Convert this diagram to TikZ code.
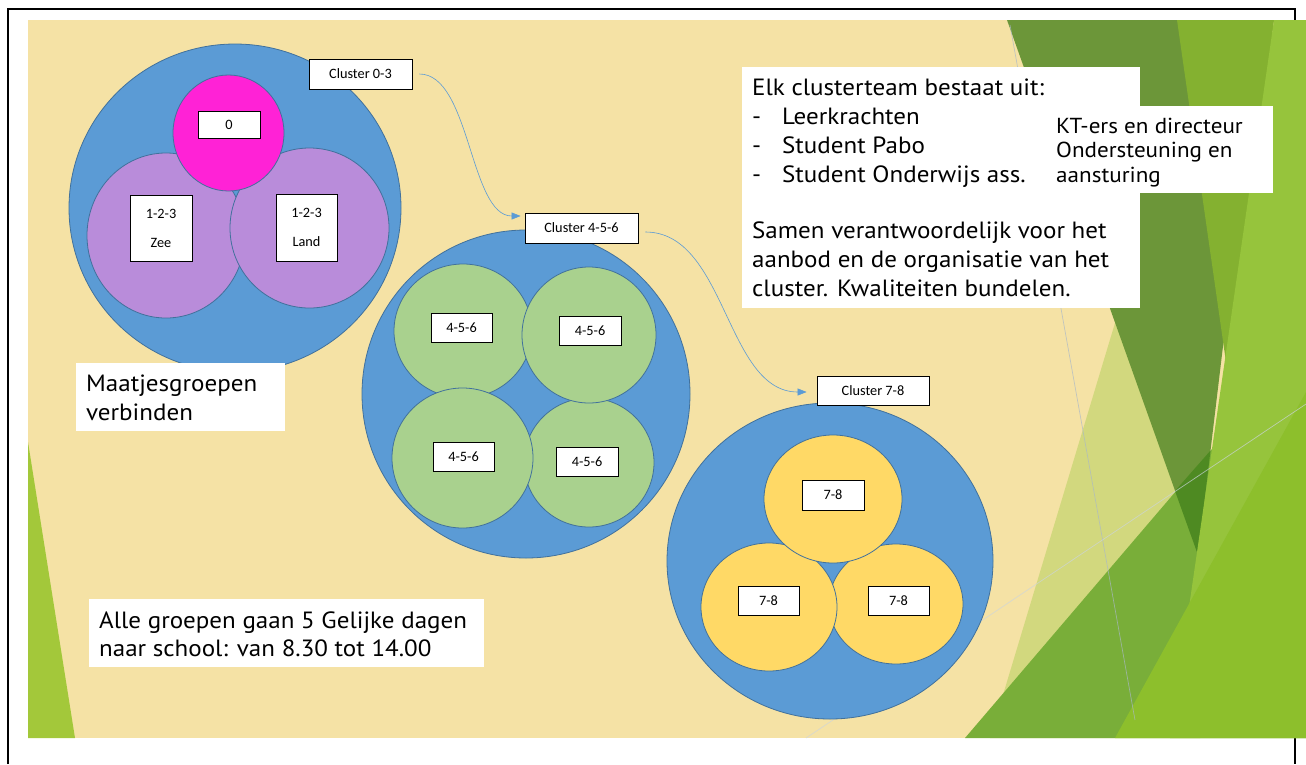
\documentclass[tikz,border=0pt]{standalone}
\usepackage{fontspec}
\setmainfont{PT Sans}[FakeStretch=1.065]
\newfontfamily\lblfont{Carlito}
\usetikzlibrary{shapes.geometric,arrows.meta}
\definecolor{beige}{RGB}{245,226,165}
\definecolor{leftG}{RGB}{163,200,58}
\definecolor{darkG}{RGB}{108,150,57}
\definecolor{midG}{RGB}{132,177,48}
\definecolor{lightG}{RGB}{150,196,60}
\definecolor{bigG}{RGB}{121,174,57}
\definecolor{deepG}{RGB}{78,138,34}
\definecolor{brightG}{RGB}{141,191,44}
\definecolor{paleG}{RGB}{210,216,126}
\definecolor{blueC}{RGB}{91,155,213}
\definecolor{edgeC}{RGB}{65,113,156}
\definecolor{purpleC}{RGB}{185,140,218}
\definecolor{magC}{RGB}{255,34,214}
\definecolor{greenC}{RGB}{169,209,142}
\definecolor{yellowC}{RGB}{255,217,102}
\definecolor{connC}{RGB}{91,155,213}
\definecolor{thinL}{RGB}{170,184,200}
\begin{document}
\begin{tikzpicture}[x=1pt,y=-1pt,
  ell/.style={ellipse, draw=edgeC, line width=0.8pt, inner sep=0pt},
  lbox/.style={rectangle, draw=black, fill=white, line width=0.8pt, inner sep=0pt, font=\lblfont\fontsize{14.3}{29}\selectfont, align=center},
  wbox/.style={rectangle, fill=white, inner sep=0pt, anchor=north west},
  conn/.style={draw=connC, line width=0.6pt, -{Triangle[length=9pt,width=7pt]}},
  txt/.style={anchor=base west, inner sep=0pt}
]
\useasboundingbox (0,0) rectangle (1306,764);
% frame
\draw[line width=2pt] (8,764) -- (8,9) -- (1295,9) -- (1295,764);
% background
\fill[beige] (28,20) rectangle (1306,738);
\fill[leftG] (28,442) -- (75,738) -- (28,738) -- cycle;
\fill[paleG] (1140,240) -- (990,738) -- (1200,738) -- (1200,400) -- cycle;
\fill[darkG] (1007,20) -- (1262,20) -- (1198,555) -- cycle;
\fill[midG] (1177,20) -- (1274,20) -- (1230,390) -- cycle;
\fill[bigG] (965,738) -- (1306,738) -- (1306,339) -- cycle;
\fill[deepG] (1175,491) -- (1210.5,450.5) -- (1198,555) -- cycle;
\fill[lightG] (1274,20) -- (1306,20) -- (1306,738) -- (1170,738) -- (1222,380) -- cycle;
\fill[brightG] (1115,738) -- (1306,738) -- (1306,392) -- cycle;
\draw[thinL, opacity=0.7, line width=0.7pt] (1010,25) -- (1135,720);
\draw[thinL!60!white, opacity=0.7, line width=0.7pt] (806,738) -- (1306,404);
% cluster 0-3
\node[ell, fill=blueC, minimum width=332, minimum height=328] (big03) at (235,208) {};
\node[ell, fill=purpleC, minimum width=158, minimum height=165] (zee) at (166,235.5) {};
\node[ell, fill=purpleC, minimum width=159, minimum height=160] (land) at (309.5,228) {};
\node[ell, fill=magC, minimum width=111, minimum height=116] (nul) at (228.5,133) {};
\node[lbox, minimum width=62, minimum height=27] (l0) at (229,124.5) {0};
\node[lbox, minimum width=62, minimum height=66] (lzee) at (161,228) {1-2-3\\Zee};
\node[lbox, minimum width=61, minimum height=67] (lland) at (306.5,227.5) {1-2-3\\Land};
% cluster 4-5-6
\node[ell, fill=blueC, minimum width=328, minimum height=328] (big456) at (526,394) {};
\node[ell, fill=greenC, minimum width=138, minimum height=134] (gtl) at (463,331) {};
\node[ell, fill=greenC, minimum width=130, minimum height=129] (gbr) at (589,462.5) {};
\node[ell, fill=greenC, minimum width=134, minimum height=136] (gtr) at (589,335) {};
\node[ell, fill=greenC, minimum width=141, minimum height=140] (gbl) at (462.5,458) {};
\node[lbox, minimum width=61, minimum height=29] (ltl) at (461.5,327.5) {4-5-6};
\node[lbox, minimum width=62, minimum height=29] (ltr) at (590,330.5) {4-5-6};
\node[lbox, minimum width=61, minimum height=29] (lbl) at (463.5,456.5) {4-5-6};
\node[lbox, minimum width=62, minimum height=29] (lbr) at (587,461.5) {4-5-6};
% cluster 7-8
\node[ell, fill=blueC, minimum width=326, minimum height=316] (big78) at (830,561) {};
\node[ell, fill=yellowC, minimum width=134, minimum height=120] (ybr) at (896,604) {};
\node[ell, fill=yellowC, minimum width=136, minimum height=128] (ybl) at (769,607) {};
\node[ell, fill=yellowC, minimum width=138, minimum height=128] (ytop) at (833,499) {};
\node[lbox, minimum width=62, minimum height=30] (lytop) at (833,495) {7-8};
\node[lbox, minimum width=61, minimum height=29] (lybl) at (768.5,600.5) {7-8};
\node[lbox, minimum width=61, minimum height=29] (lybr) at (898.5,600.5) {7-8};
% cluster labels
\node[lbox, minimum width=103, minimum height=30] (c03) at (360.5,74) {Cluster 0-3};
\node[lbox, minimum width=113, minimum height=30] (c456) at (581.5,228) {Cluster 4-5-6};
\node[lbox, minimum width=112, minimum height=29] (c78) at (873,390.5) {Cluster 7-8};
% connectors
\draw[conn] ([xshift=7pt]c03.east) .. controls +(51,0) and +(-51,0) .. ([shift={(-4,-12)}]c456.west);
\draw[conn] ([shift={(7,4)}]c456.east) .. controls +(81,0) and +(-81,0) .. ([shift={(-10,1.5)}]c78.west);
% text boxes
\node[wbox, minimum width=398, minimum height=241] (elkbox) at (742,67) {};
\node[wbox, minimum width=225, minimum height=87] (ktbox) at (1048,106) {};
\node[txt] (elktxt) at (752,95) {\begin{minipage}[t]{385pt}\fontsize{23.5}{29}\selectfont
Elk clusterteam bestaat uit:\\
\makebox[30pt][l]{-}Leerkrachten\\
\makebox[30pt][l]{-}Student Pabo\\
\makebox[30pt][l]{-}Student Onderwijs ass.\\[27pt]
Samen verantwoordelijk voor het\\
aanbod en de organisatie van het\\
cluster. Kwaliteiten bundelen.\end{minipage}};
\node[txt] (kttxt) at (1056,133) {\begin{minipage}[t]{215pt}\fontsize{21.7}{24.5}\selectfont
KT-ers en directeur\\
Ondersteuning en\\
aansturing\end{minipage}};
\node[wbox, minimum width=209, minimum height=68] (maatbox) at (76,363) {};
\node[txt] (maattxt) at (86,391) {\begin{minipage}[t]{195pt}\fontsize{23.5}{29}\selectfont
Maatjesgroepen\\
verbinden\end{minipage}};
\node[wbox, minimum width=395, minimum height=68] (allebox) at (89,599) {};
\node[txt] (alletxt) at (99,628) {\begin{minipage}[t]{385pt}\fontsize{23.5}{28}\selectfont
Alle groepen gaan 5 Gelijke dagen\\
naar school: van 8.30 tot 14.00\end{minipage}};
\end{tikzpicture}
\end{document}
